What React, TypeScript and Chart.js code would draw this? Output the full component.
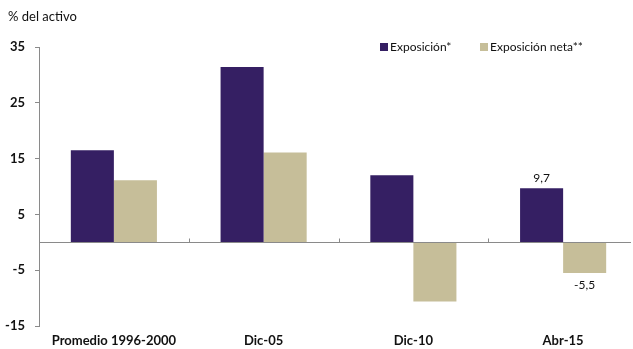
import React, { useEffect, useRef } from "react";
import { Chart, registerables } from "chart.js";

Chart.register(...registerables);

const categories = ["Promedio 1996-2000", "Dic-05", "Dic-10", "Abr-15"];
const exposicion = [16.5, 31.4, 12.0, 9.7];
const exposicionNeta = [11.1, 16.1, -10.6, -5.5];
const shownLabels: (string | null)[][] = [
  [null, null, null, "9,7"],
  [null, null, null, "-5,5"],
];
const yTicks = [35, 25, 15, 5, -5, -15];
const seriesNames = ["Exposición*", "Exposición neta**"];
const colors = ["#351F63", "#C6BE99"];
const FONT = "Lato, 'Open Sans', sans-serif";

const decorPlugin = {
  id: "decor",
  afterDatasetsDraw(chart: any) {
    const { ctx, chartArea, scales } = chart;
    const y0 = Math.round(scales.y.getPixelForValue(0)) + 0.5;
    ctx.save();
    ctx.strokeStyle = "#8a8a8a";
    ctx.lineWidth = 1;
    ctx.beginPath();
    ctx.moveTo(chartArea.left, y0);
    ctx.lineTo(631, y0);
    ctx.stroke();
    const n = categories.length;
    const w = (chartArea.right - chartArea.left) / n;
    for (let i = 1; i < n; i++) {
      const x = Math.round(chartArea.left + w * i) + 0.5;
      ctx.beginPath();
      ctx.moveTo(x, y0);
      ctx.lineTo(x, y0 - 4);
      ctx.stroke();
    }
    ctx.fillStyle = "#111";
    ctx.font = `12px ${FONT}`;
    ctx.textAlign = "center";
    chart.data.datasets.forEach((ds: any, di: number) => {
      const meta = chart.getDatasetMeta(di);
      meta.data.forEach((bar: any, i: number) => {
        const lbl = shownLabels[di][i];
        if (!lbl) return;
        const v = ds.data[i];
        if (v >= 0) {
          ctx.textBaseline = "bottom";
          ctx.fillText(lbl, bar.x, bar.y - 4);
        } else {
          ctx.textBaseline = "top";
          ctx.fillText(lbl, bar.x, bar.y + 6);
        }
      });
    });
    ctx.textAlign = "left";
    ctx.textBaseline = "middle";
    ctx.font = `13px ${FONT}`;
    ctx.fillText("% del activo", 8, 17);
    ctx.font = `12px ${FONT}`;
    const lx = [380, 480];
    seriesNames.forEach((name, i) => {
      ctx.fillStyle = colors[i];
      ctx.fillRect(lx[i], 43, 8, 8);
      ctx.fillStyle = "#111";
      ctx.fillText(name, lx[i] + 10, 47.5);
    });
    ctx.restore();
  },
};

export default function App() {
  const ref = useRef<HTMLCanvasElement>(null);
  useEffect(() => {
    document.body.style.margin = "0";
    const chart = new Chart(ref.current!, {
      type: "bar",
      data: {
        labels: categories,
        datasets: [
          { label: seriesNames[0], data: exposicion, backgroundColor: colors[0], categoryPercentage: 0.575, barPercentage: 1 },
          { label: seriesNames[1], data: exposicionNeta, backgroundColor: colors[1], categoryPercentage: 0.575, barPercentage: 1 },
        ],
      },
      options: {
        animation: false,
        responsive: false,
        layout: { padding: { top: 47, right: 2, bottom: 0, left: 0 } },
        plugins: { legend: { display: false }, tooltip: { enabled: false } },
        scales: {
          x: {
            grid: { display: false, drawTicks: false },
            border: { display: false },
            ticks: {
              color: "#111",
              font: { family: FONT, size: 13, weight: "bold" },
              padding: 7,
              maxRotation: 0,
            },
            afterFit(scale: any) {
              scale.height = 23;
            },
          },
          y: {
            min: -15,
            max: 35,
            afterBuildTicks(scale: any) {
              scale.ticks = yTicks.map((v) => ({ value: v }));
            },
            grid: {
              display: true,
              drawOnChartArea: false,
              drawTicks: true,
              tickLength: 4,
              color: "#8a8a8a",
            },
            border: { display: true, color: "#8a8a8a" },
            ticks: {
              color: "#111",
              font: { family: FONT, size: 13, weight: "bold" },
              padding: 10,
            },
            afterFit(scale: any) {
              scale.width = 39;
            },
          },
        },
      },
      plugins: [decorPlugin],
    });
    return () => chart.destroy();
  }, []);
  return (
    <div style={{ width: 633, height: 349, overflow: "hidden" }}>
      <canvas ref={ref} width={640} height={349} />
    </div>
  );
}
